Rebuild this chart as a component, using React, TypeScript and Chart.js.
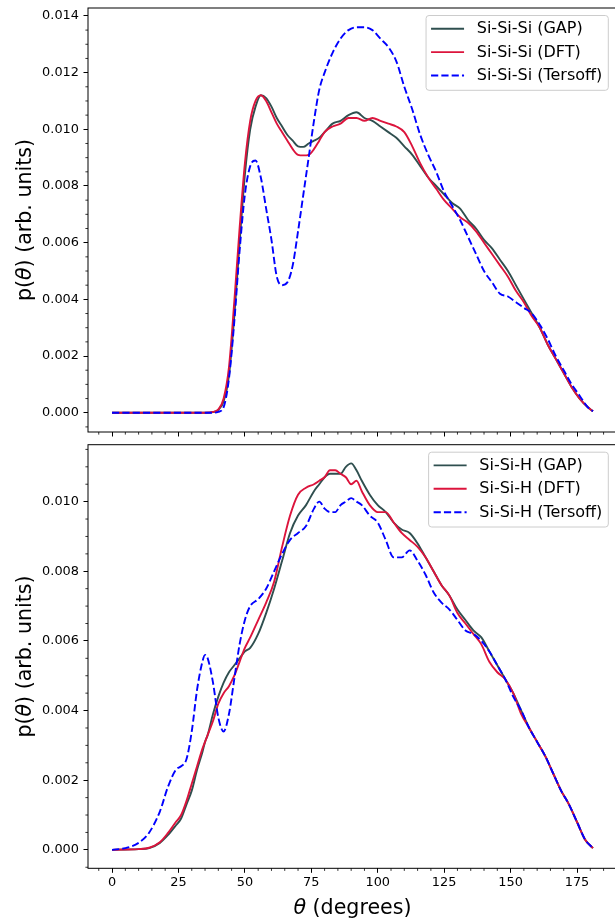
import React, { useEffect, useRef } from "react";
import { Chart, registerables } from "chart.js";

Chart.register(...registerables);

const FONT = "'DejaVu Sans', sans-serif";

// ---------- data ----------
const topAngles = [0, 10, 20, 30, 35, 38, 40, 42, 44, 46, 48, 50, 52, 54, 56, 58, 60, 62, 64, 66, 68, 70, 72, 74, 76, 78, 80, 83, 86, 89, 92, 95, 98, 101, 104, 107, 110, 113, 116, 119, 122, 125, 128, 131, 134, 137, 140, 143, 146, 149, 152, 155, 158, 161, 164, 167, 170, 173, 176, 179, 181];
const topGap = [0, 0, 0, 0, 0, 0.00002, 0.0001, 0.0004, 0.0013, 0.0034, 0.006, 0.0084, 0.01, 0.0108, 0.0112, 0.0111, 0.0108, 0.0104, 0.0101, 0.0098, 0.0096, 0.0094, 0.00938, 0.0095, 0.0096, 0.0097, 0.0099, 0.0102, 0.0103, 0.0105, 0.0106, 0.0104, 0.0103, 0.0101, 0.0099, 0.0097, 0.0094, 0.0091, 0.0087, 0.0083, 0.008, 0.0077, 0.0074, 0.0072, 0.0068, 0.0065, 0.0061, 0.0058, 0.0054, 0.005, 0.0045, 0.004, 0.0035, 0.003, 0.0024, 0.0019, 0.0014, 0.0009, 0.0005, 0.0002, 0.00005];
const topDft = [0, 0, 0, 0, 0, 0.00003, 0.00012, 0.0005, 0.0016, 0.0039, 0.0065, 0.0088, 0.0103, 0.011, 0.0112, 0.011, 0.0106, 0.0102, 0.0099, 0.0096, 0.0093, 0.0091, 0.00908, 0.0091, 0.0093, 0.0096, 0.0099, 0.0101, 0.0102, 0.0104, 0.0104, 0.0103, 0.0104, 0.0103, 0.0102, 0.0101, 0.0099, 0.0094, 0.0088, 0.0083, 0.0079, 0.0075, 0.0072, 0.0069, 0.0067, 0.0064, 0.006, 0.0056, 0.0052, 0.0048, 0.0043, 0.0039, 0.0034, 0.003, 0.0024, 0.0019, 0.0014, 0.0009, 0.0005, 0.0002, 0.00005];
const topTersoff = [0, 0, 0, 0, 0, 0, 0.00003, 0.0002, 0.0012, 0.0032, 0.0057, 0.0077, 0.0087, 0.0089, 0.0083, 0.0072, 0.0061, 0.0048, 0.0045, 0.0046, 0.0052, 0.0064, 0.0077, 0.009, 0.0103, 0.0114, 0.012, 0.0127, 0.0132, 0.0135, 0.0136, 0.0136, 0.0135, 0.0132, 0.0129, 0.0124, 0.0115, 0.0107, 0.0098, 0.0091, 0.0085, 0.0078, 0.0073, 0.0068, 0.0062, 0.0056, 0.005, 0.0046, 0.0042, 0.0041, 0.0039, 0.0037, 0.0035, 0.0031, 0.0026, 0.002, 0.0015, 0.001, 0.0006, 0.0002, 0.00005];

const botAngles = [0, 5, 10, 14, 18, 21, 24, 26, 28, 30, 32, 34, 35, 36, 38, 40, 42, 44, 46, 48, 50, 52, 55, 58, 61, 64, 67, 70, 73, 76, 78, 80, 82, 84, 86, 88, 90, 92, 94, 97, 100, 103, 106, 109, 112, 115, 118, 121, 124, 127, 130, 133, 136, 139, 142, 145, 148, 151, 154, 157, 160, 163, 166, 169, 172, 175, 178, 181];
const botGap = [0, 0.00001, 0.00002, 0.00005, 0.0002, 0.00042, 0.0007, 0.0009, 0.0013, 0.0017, 0.0023, 0.0028, 0.0031, 0.0033, 0.0039, 0.0044, 0.0048, 0.0051, 0.0053, 0.0055, 0.0057, 0.0058, 0.0062, 0.0068, 0.0075, 0.0083, 0.0091, 0.0096, 0.0099, 0.0103, 0.0105, 0.0107, 0.0108, 0.0108, 0.0108, 0.011, 0.0111, 0.0109, 0.0106, 0.0102, 0.0099, 0.0097, 0.0094, 0.0092, 0.0091, 0.0088, 0.0084, 0.008, 0.0076, 0.0073, 0.0069, 0.0066, 0.0063, 0.0061, 0.0057, 0.0053, 0.0049, 0.0045, 0.004, 0.0035, 0.0031, 0.0027, 0.0022, 0.0017, 0.0013, 0.0008, 0.0003, 0.00005];
const botDft = [0, 0.00001, 0.00002, 0.00006, 0.00022, 0.00048, 0.0008, 0.001, 0.0014, 0.0019, 0.0024, 0.0029, 0.0031, 0.0033, 0.0037, 0.0042, 0.0045, 0.0047, 0.005, 0.0054, 0.0058, 0.0061, 0.0066, 0.0071, 0.0077, 0.0087, 0.0096, 0.0102, 0.0104, 0.0105, 0.0106, 0.0107, 0.0109, 0.0109, 0.0108, 0.0107, 0.0105, 0.0106, 0.0103, 0.0099, 0.0097, 0.0097, 0.0094, 0.0091, 0.0089, 0.0087, 0.0084, 0.008, 0.0076, 0.0073, 0.0068, 0.0065, 0.0062, 0.0059, 0.0054, 0.0051, 0.0049, 0.0045, 0.0039, 0.0035, 0.0031, 0.0027, 0.0022, 0.0017, 0.0013, 0.0008, 0.0003, 0.00005];
const botTersoff = [0, 0.00005, 0.0002, 0.0005, 0.0011, 0.0018, 0.0023, 0.0024, 0.0026, 0.0034, 0.0046, 0.0054, 0.0056, 0.0055, 0.0048, 0.0038, 0.0034, 0.0039, 0.0049, 0.0059, 0.0066, 0.007, 0.0072, 0.0075, 0.008, 0.0085, 0.0089, 0.0091, 0.0093, 0.0098, 0.01, 0.0098, 0.0097, 0.0097, 0.0099, 0.01, 0.0101, 0.01, 0.0099, 0.0096, 0.0094, 0.0089, 0.0084, 0.0084, 0.0086, 0.0083, 0.0079, 0.0074, 0.0071, 0.0069, 0.0066, 0.0063, 0.0062, 0.006, 0.0057, 0.0053, 0.0049, 0.0044, 0.004, 0.0035, 0.0031, 0.0027, 0.0022, 0.0017, 0.0013, 0.0008, 0.0003, 0.00005];

const topLabels = ["Si-Si-Si (GAP)", "Si-Si-Si (DFT)", "Si-Si-Si (Tersoff)"];
const botLabels = ["Si-Si-H (GAP)", "Si-Si-H (DFT)", "Si-Si-H (Tersoff)"];

const xTicks = [0, 25, 50, 75, 100, 125, 150, 175];
const topYTicks = [0, 0.002, 0.004, 0.006, 0.008, 0.01, 0.012, 0.014];
const botYTicks = [0, 0.002, 0.004, 0.006, 0.008, 0.01];

const COLORS = ["#2F4F4F", "#DC143C", "#0000FF"];
const DASHES: number[][] = [[], [], [7.2, 3.1]];

// ---------- helpers ----------
type Part = { t: string; it?: boolean };

function measureCtx(): CanvasRenderingContext2D {
  const c = document.createElement("canvas");
  return c.getContext("2d")!;
}

// legend font sized so the longest top label is as wide as in the reference
function legendFontSize(): number {
  const ctx = measureCtx();
  ctx.font = `16px ${FONT}`;
  const w = ctx.measureText(topLabels[2]).width;
  const fs = (16 * 125.6) / w;
  return Math.max(14.5, Math.min(16.5, fs));
}

function drawRich(ctx: CanvasRenderingContext2D, parts: Part[], x: number, y: number, size: number) {
  const fN = `${size}px ${FONT}`;
  const fI = `italic ${size}px ${FONT}`;
  let total = 0;
  const widths = parts.map((p) => {
    ctx.font = p.it ? fI : fN;
    const w = ctx.measureText(p.t).width;
    total += w;
    return w;
  });
  let cx = x - total / 2;
  ctx.textAlign = "left";
  ctx.textBaseline = "alphabetic";
  parts.forEach((p, i) => {
    ctx.font = p.it ? fI : fN;
    ctx.fillText(p.t, cx, y);
    cx += widths[i];
  });
}

type Panel = {
  angles: number[];
  series: number[][];
  labels: string[];
  yTicks: number[];
  yMin: number;
  yMax: number;
  padTop: number;
  xHeight: number;
  showX: boolean;
  legendFs: number;
};

function zeroPad(s: any) {
  s.paddingTop = 0;
  s.paddingBottom = 0;
  s.paddingLeft = 0;
  s.paddingRight = 0;
}

function makeChart(canvas: HTMLCanvasElement, p: Panel) {
  const datasets = p.series.map((vals, i) => ({
    label: p.labels[i],
    data: p.angles.map((a, k) => ({ x: a, y: vals[k] })),
    borderColor: COLORS[i],
    backgroundColor: COLORS[i],
    borderWidth: 1.9,
    borderDash: DASHES[i],
    pointRadius: 0,
    fill: false,
    cubicInterpolationMode: "monotone" as const,
    order: 3 - i,
  }));

  const extras = {
    id: "extras",
    afterDatasetsDraw(chart: any) {
      const { ctx, chartArea } = chart;
      const ds = chart.data.datasets;
      const fs = p.legendFs;
      ctx.save();
      ctx.font = `${fs}px ${FONT}`;
      const tw = Math.max(...ds.map((d: any) => ctx.measureText(d.label).width));
      const w = 50.7 + tw + 6;
      const h = 74.8;
      const x0 = chartArea.right - 8.7 - w;
      const y0 = chartArea.top + 7.5;
      ctx.beginPath();
      (ctx as any).roundRect(x0, y0, w, h, 3);
      ctx.fillStyle = "rgba(255,255,255,0.8)";
      ctx.fill();
      ctx.strokeStyle = "#cccccc";
      ctx.lineWidth = 1;
      ctx.stroke();
      ds.forEach((d: any, i: number) => {
        const cy = y0 + 13.2 + i * 23.4;
        ctx.beginPath();
        ctx.strokeStyle = d.borderColor;
        ctx.lineWidth = d.borderWidth;
        ctx.setLineDash(d.borderDash || []);
        ctx.moveTo(x0 + 5, cy);
        ctx.lineTo(x0 + 38, cy);
        ctx.stroke();
        ctx.setLineDash([]);
        ctx.fillStyle = "#000";
        ctx.textAlign = "left";
        ctx.textBaseline = "middle";
        ctx.fillText(d.label, x0 + 50.7, cy + 0.5);
      });
      ctx.restore();
    },
    afterDraw(chart: any) {
      const { ctx, chartArea } = chart;
      const xs = chart.scales.x;
      const ys = chart.scales.y;
      ctx.save();
      ctx.strokeStyle = "#000";
      // minor ticks
      ctx.lineWidth = 0.8;
      ctx.beginPath();
      for (let v = -5; v <= 190; v += 5) {
        if (v % 25 === 0 || v < xs.min || v > xs.max) continue;
        const px = xs.getPixelForValue(v);
        ctx.moveTo(px, chartArea.bottom);
        ctx.lineTo(px, chartArea.bottom + 2.6);
      }
      const step = 0.0005;
      for (let k = Math.ceil(ys.min / step); k * step <= ys.max; k++) {
        if (k % 4 === 0) continue;
        const py = ys.getPixelForValue(k * step);
        ctx.moveTo(chartArea.left - 2.6, py);
        ctx.lineTo(chartArea.left, py);
      }
      ctx.stroke();
      // frame
      ctx.lineWidth = 1;
      ctx.strokeRect(chartArea.left, chartArea.top, chartArea.right - chartArea.left, chartArea.bottom - chartArea.top);
      // axis titles
      ctx.fillStyle = "#000";
      const cyMid = (chartArea.top + chartArea.bottom) / 2;
      ctx.save();
      ctx.translate(31, cyMid);
      ctx.rotate(-Math.PI / 2);
      drawRich(ctx, [{ t: "p(" }, { t: "θ", it: true }, { t: ") (arb. units)" }], 0, 0, 20.6);
      ctx.restore();
      if (p.showX) {
        const cx = (chartArea.left + chartArea.right) / 2;
        drawRich(ctx, [{ t: "θ", it: true }, { t: " (degrees)" }], cx, chartArea.bottom + 45.2, 20.6);
      }
      ctx.restore();
    },
  };

  return new Chart(canvas, {
    type: "line",
    data: { datasets: datasets as any },
    options: {
      responsive: false,
      animation: false,
      events: [],
      layout: { padding: { top: p.padTop, right: 2, left: 0, bottom: 0 } },
      plugins: {
        legend: { display: false },
        tooltip: { enabled: false },
        title: { display: false },
      },
      scales: {
        x: {
          type: "linear",
          min: -9.05,
          max: 190.05,
          afterBuildTicks: (s: any) => {
            s.ticks = xTicks.map((v) => ({ value: v }));
          },
          afterFit: (s: any) => {
            s.height = p.xHeight;
            zeroPad(s);
          },
          ticks: {
            display: p.showX,
            autoSkip: false,
            maxRotation: 0,
            padding: 2,
            color: "#000",
            font: { family: FONT, size: 12.9 },
            callback: (v: any) => String(v),
          },
          grid: { drawOnChartArea: false, drawTicks: true, tickLength: 4.5, color: "#000", tickWidth: 1 },
          border: { display: false },
        },
        y: {
          type: "linear",
          min: p.yMin,
          max: p.yMax,
          afterBuildTicks: (s: any) => {
            s.ticks = p.yTicks.map((v) => ({ value: v }));
          },
          afterFit: (s: any) => {
            s.width = 88;
            zeroPad(s);
          },
          ticks: {
            autoSkip: false,
            padding: 4.5,
            color: "#000",
            font: { family: FONT, size: 12.9 },
            callback: (v: any) => Number(v).toFixed(3),
          },
          grid: { drawOnChartArea: false, drawTicks: true, tickLength: 4.5, color: "#000", tickWidth: 1 },
          border: { display: false },
        },
      },
    },
    plugins: [extras as any],
  });
}

export default function App() {
  const topRef = useRef<HTMLCanvasElement>(null);
  const botRef = useRef<HTMLCanvasElement>(null);

  useEffect(() => {
    const lfs = legendFontSize();
    const c1 = makeChart(topRef.current!, {
      angles: topAngles,
      series: [topGap, topDft, topTersoff],
      labels: topLabels,
      yTicks: topYTicks,
      yMin: -0.00068,
      yMax: 0.01428,
      padTop: 8,
      xHeight: 8,
      showX: false,
      legendFs: lfs,
    });
    const c2 = makeChart(botRef.current!, {
      angles: botAngles,
      series: [botGap, botDft, botTersoff],
      labels: botLabels,
      yTicks: botYTicks,
      yMin: -0.00053,
      yMax: 0.011635,
      padTop: 4.7,
      xHeight: 50.7,
      showX: true,
      legendFs: lfs,
    });
    return () => {
      c1.destroy();
      c2.destroy();
    };
  }, []);

  return (
    <div style={{ position: "fixed", left: 0, top: 0, width: 615, height: 919, overflow: "hidden", background: "#fff" }}>
      <canvas ref={topRef} width={619} height={440} style={{ display: "block", width: 619, height: 440 }} />
      <canvas ref={botRef} width={619} height={479} style={{ display: "block", width: 619, height: 479 }} />
    </div>
  );
}
